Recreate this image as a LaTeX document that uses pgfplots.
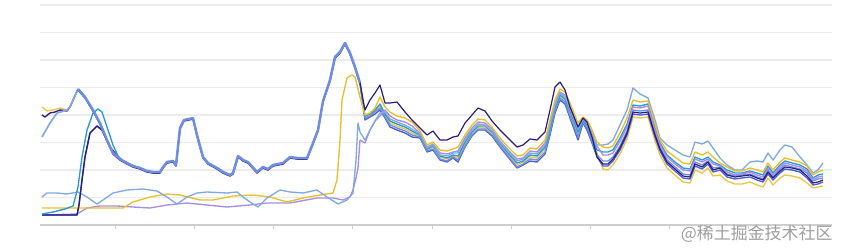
\documentclass[border=0pt]{standalone}
\usepackage{pgfplots}
\pgfplotsset{compat=1.18}
\usepackage{pgfplotstable}
\usepackage{fontspec}
\newfontfamily\cjk{Noto Sans CJK SC}

\definecolor{cN}{HTML}{2D1B7E}
\definecolor{cG}{HTML}{E6BF2A}
\definecolor{cG2}{HTML}{EEC645}
\definecolor{cL}{HTML}{A68EE8}
\definecolor{cC}{HTML}{80AAE4}
\definecolor{cD}{HTML}{2A9AD6}
\definecolor{cF}{HTML}{6F8EE0}
\definecolor{cB}{HTML}{4A5FD0}
\definecolor{gridc}{HTML}{ECECEC}
\definecolor{axc}{HTML}{CFCFCF}

% shared main curve (left part)
\pgfplotstableread{
x y
78 89
85 97
93 110
100 123
107 140
113 153
120 159
127 163
133 166
140 168
147 171
153 172
160 172
163 167
167 162
173 161
176 165
180 128
184 120
193 118
197 135
203 157
208 163
217 168
223 172
230 175
233 173
238 156
243 160
248 162
257 172
263 167
268 169
273 165
283 163
290 157
297 158
307 158
313 143
318 130
323 101
330 80
335 57
340 52
345 43
350 53
355 67
360 83
}\mainleft

\pgfplotstableread{
x N G1 L C D G2 F B
360 83 97 140 132 83 83 83 83
365 110 115 143 140 116 118 118 120
370 100 113 130 130 114 115 116 117
375 93 108 121 121 110 111 112 114
380 85 97 116 113 104 106 108 110
385 103 107 110 112 114 115 117 118
390 103 112 116 119 121 123 125 127
397 102 116 120 122 124 126 128 130
405 112 118 122 125 127 129 131 133
412 120 122 126 129 131 133 135 137
420 128 131 133 134 135 136 137 138
427 135 145 147 148 149 150 151 152
433 131 142 144 145 146 147 149 150
440 140 150 153 155 156 157 159 160
447 140 151 154 156 158 159 161 162
453 137 149 152 153 155 156 157 158
458 136 147 151 153 156 158 160 162
465 123 135 138 140 142 144 146 147
472 115 125 128 130 132 133 135 136
478 108 119 122 124 126 127 129 130
485 111 120 123 125 126 128 129 130
492 121 127 129 131 132 133 135 136
500 130 138 141 142 143 145 146 147
508 138 147 150 151 153 154 156 157
517 147 156 159 161 163 165 167 168
523 145 155 158 159 161 162 164 165
530 139 148 151 153 155 157 159 161
537 140 149 152 154 156 158 160 162
545 132 140 143 145 147 149 152 154
550 110 120 124 126 129 131 133 135
555 87 100 103 105 107 109 111 113
560 82 89 92 93 95 96 98 100
565 90 92 95 97 99 100 102 104
570 107 103 107 109 111 113 116 118
578 127 123 127 129 132 134 137 140
583 118 117 118 119 120 121 122 123
587 122 120 122 123 125 126 128 130
592 137 130 133 135 137 139 141 143
597 157 142 146 145 150 153 155 157
603 164 147 155 145 152 169 161 166
608 164 148 155 144 152 170 161 166
613 159 146 153 140 150 165 157 161
620 148 133 141 125 138 154 146 150
627 133 118 127 110 124 139 131 135
633 112 100 107 88 105 117 110 114
640 113 102 108 94 106 118 111 115
648 112 101 106 98 104 117 110 114
655 135 124 130 120 128 141 133 137
660 149 140 145 138 143 155 147 151
667 162 151 157 145 155 168 160 164
675 169 157 164 150 162 175 167 171
683 176 163 170 155 168 182 174 178
690 177 164 171 157 169 183 175 179
695 164 152 159 142 157 170 162 166
702 167 155 162 144 160 173 165 169
708 162 152 159 141 157 168 161 164
713 170 157 164 148 162 176 168 172
720 168 163 166 158 165 175 167 170
727 175 167 172 165 170 181 174 177
735 177 171 175 170 173 184 176 179
742 176 171 174 170 173 184 175 178
750 175 168 172 162 171 182 174 177
757 178 170 175 161 173 185 177 180
763 180 172 177 162 175 187 179 182
768 172 163 168 153 166 178 170 174
773 178 170 175 160 173 185 177 180
780 171 162 167 150 165 178 169 173
785 167 158 163 145 161 175 165 169
792 168 160 165 147 163 176 167 170
800 170 162 167 157 165 178 169 172
807 176 166 171 165 169 183 173 178
813 183 175 180 173 178 188 181 185
818 182 172 177 170 175 187 179 184
823 180 170 176 163 174 186 178 182
}\rightdata

\begin{document}
\begin{tikzpicture}
\useasboundingbox (0,0) rectangle (847bp,248bp);
\begin{axis}[
  at={(40bp,23bp)}, anchor=south west,
  scale only axis, width=792bp, height=220bp,
  xmin=40, xmax=832, ymin=5, ymax=225, y dir=reverse,
  axis line style={draw=none},
  ytick={5,32.5,60,87.5,115,142.5,170,197.5},
  yticklabels={},
  ymajorgrids,
  major grid style={draw=gridc, line width=1.1bp},
  extra y ticks={225},
  extra y tick labels={},
  extra y tick style={major grid style={draw=axc, line width=1.1bp}, ytick style={draw=none}},
  ytick style={draw=none},
  xtick={115,194,273,352,432,511,590,669,748},
  xticklabels={},
  xtick pos=left,
  tick align=outside,
  major tick length=4bp,
  xtick style={draw=axc, line width=0.9bp},
  every axis plot/.append style={line width=1.35bp, line join=round, no markers},
]
% low flat series on the left
\addplot[cL] coordinates {(42,215) (77,214) (87,208) (100,206) (117,206) (133,207) (150,208) (167,205) (187,203) (207,205) (227,207) (250,205) (267,203) (290,203) (317,198) (333,198) (343,200) (350,197) (353,190) (356,178) (358,168) (360,140)};
\addplot[cG] coordinates {(42,208) (80,208) (123,208) (133,202) (150,197) (167,194) (180,195) (200,200) (213,200) (233,196) (253,195) (270,197) (287,202) (303,198) (320,195) (333,193) (337,180) (340,140) (342,100) (347,78) (352,75) (355,77) (360,97)};
\addplot[cC] coordinates {(42,197) (47,193) (57,193) (67,194) (78,192) (87,197) (97,204) (103,200) (113,193) (127,190) (143,189) (157,191) (167,197) (177,204) (187,197) (197,193) (207,192) (227,193) (237,192) (243,197) (250,202) (258,207) (267,198) (280,190) (290,192) (303,193) (317,190) (327,197) (338,204) (347,200) (353,193) (356,160) (358,123) (360,132)};
% rising series on the left
\addplot[cB] coordinates {(42,215) (77,215) (79,205) (82,180) (85,157) (90,133) (97,126) (102,130) (110,147) (118,157) (123,161) (127,163)};
\addplot[cN] coordinates {(42,215) (77,215) (79,205) (82,180) (85,157) (90,133) (97,126) (102,130) (110,147) (118,157) (123,161) (127,163)};
\addplot[cD] coordinates {(42,214) (53,212) (65,209) (73,206) (76,195) (78,187) (82,157) (87,130) (93,113) (98,109) (102,112) (107,127) (113,145) (118,156) (123,161) (127,163)};
% high start series on the left
\addplot[cG2] coordinates {(42,107) (47,111) (53,110) (60,108) (67,110) (70,107) (78,89)};
\addplot[cN] coordinates {(42,115) (45,117) (50,113) (55,112) (60,110) (67,111) (70,107) (78,89)};
\addplot[cC, line width=1.7bp] coordinates {(42,137) (50,123) (57,113) (67,110) (70,107) (78,89)};
% shared main curve
\addplot[cN, line width=1.5bp, yshift=-1bp] table[x=x, y=y] {\mainleft};
\addplot[cF, line width=2.5bp] table[x=x, y=y] {\mainleft};
% bundle on the right
\addplot[cG2] table[x=x, y=G2] {\rightdata};
\addplot[cB] table[x=x, y=B] {\rightdata};
\addplot[cF] table[x=x, y=F] {\rightdata};
\addplot[cD] table[x=x, y=D] {\rightdata};
\addplot[cL] table[x=x, y=L] {\rightdata};
\addplot[cC] table[x=x, y=C] {\rightdata};
\addplot[cG] table[x=x, y=G1] {\rightdata};
\addplot[cN, line width=1.2bp] table[x=x, y=N] {\rightdata};
\end{axis}
\node[anchor=base east, text=black!38, font=\cjk\fontsize{17}{17}\selectfont] at (836bp,9bp) {@稀土掘金技术社区};
\end{tikzpicture}
\end{document}
